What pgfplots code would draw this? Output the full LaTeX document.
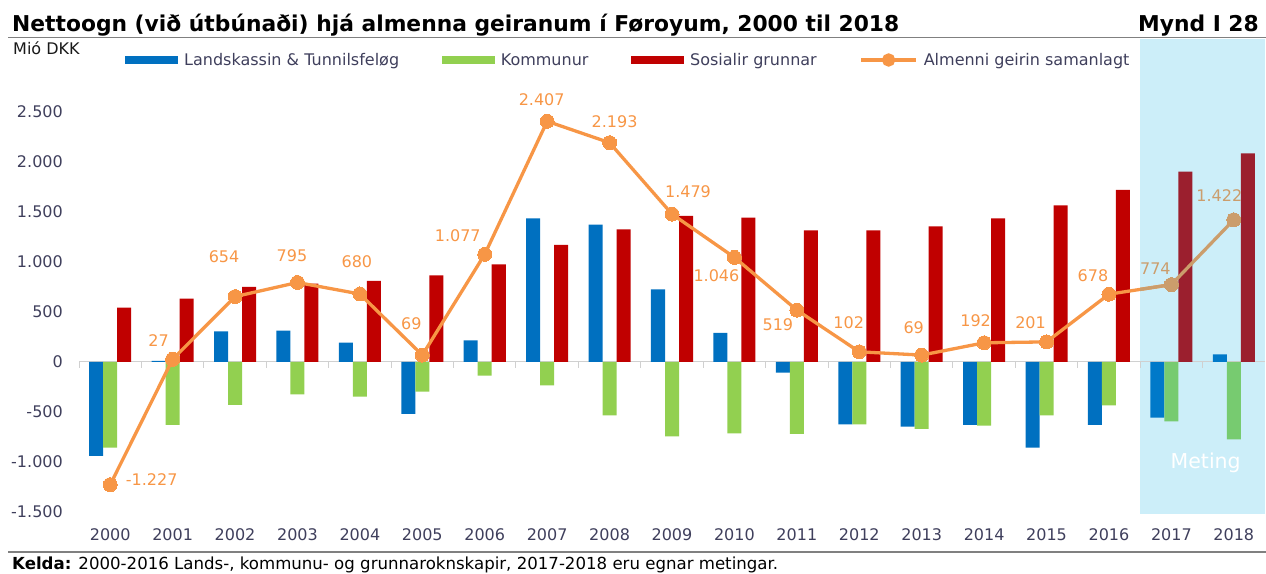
\documentclass[border=0pt]{standalone}
\usepackage{fontspec}
\setmainfont{DejaVu Sans}
\usepackage{pgfplots}
\usepackage{pgfplotstable}
\pgfplotsset{compat=1.18}

\definecolor{landblue}{HTML}{0070C0}
\definecolor{kommgreen}{HTML}{92D050}
\definecolor{sosred}{HTML}{C00000}
\definecolor{totorange}{HTML}{F79646}
% the same series inside the shaded forecast years
\definecolor{landblueF}{HTML}{0079C9}
\definecolor{kommgreenF}{HTML}{77CB70}
\definecolor{sosredF}{HTML}{9B1F2E}
\definecolor{totorangeF}{HTML}{CB9D6C}
\definecolor{metingblue}{HTML}{CCEEF9}
\definecolor{txt}{HTML}{3F3F5C}
\definecolor{axgray}{HTML}{D0D0D0}

\newcommand{\px}{\fontsize{16}{19}\selectfont}

% x = 0 is 2000
\pgfplotstableread{
x land komm sos
0 -940 -857 543
1 10 -630 633
2 307 -430 750
3 313 -323 783
4 193 -347 810
5 -520 -297 867
6 217 -137 977
7 1437 -233 1170
8 1373 -533 1327
9 727 -743 1460
10 290 -713 1443
11 -107 -720 1317
12 -623 -623 1317
13 -647 -670 1357
14 -630 -637 1437
15 -857 -533 1567
16 -630 -433 1720
17 -557 -593 1903
18 77 -773 2087
}\bars

% dx dy: label offsets in pt
\pgfplotstableread{
x tot dx dy
0 -1227 41.5 5.5
1 27 -14 19
2 654 -11 40
3 795 -5.5 27
4 680 -3 32
5 69 -11 31
6 1077 -27 19
7 2407 -5.5 22
8 2193 5 21
9 1479 16 22
10 1046 -18 -18
11 519 -19 -15
12 102 -10.5 29.5
13 69 -8 27
14 192 -8.5 22
15 201 -16 19
16 678 -16 18.5
17 774 -16 16
18 1422 -14.5 24
}\tot

\begin{document}
\begin{tikzpicture}[x=1pt,y=1pt]
\begin{axis}[
    at={(79pt,59pt)}, anchor=south west,
    scale only axis, width=1186pt, height=475pt,
    xmin=-0.5, xmax=18.5, ymin=-1520, ymax=3230,
    clip=false,
    axis line style={draw=none},
    major tick length=0pt,
    xtick={0,...,18},
    xticklabels={2000,2001,2002,2003,2004,2005,2006,2007,2008,2009,2010,2011,2012,2013,2014,2015,2016,2017,2018},
    ytick={-1500,-1000,...,2500},
    tick label style={font=\px, text=txt},
    yticklabel style={anchor=east, inner sep=0pt, xshift=-16pt},
    xticklabel style={anchor=north, inner sep=0pt, yshift=-14pt},
    /pgf/number format/1000 sep={.},
    /pgf/number format/assume math mode=true,
    bar width=0.2244,
    legend columns=4,
    legend cell align=left,
    legend style={at={(axis description cs:0,1)}, anchor=west, xshift=46pt, yshift=-21pt,
        draw=none, fill=none, inner sep=0pt, font=\px, text=txt,
        /tikz/every odd column/.append style={column sep=4pt},
        /tikz/every even column/.append style={column sep=40.7pt}},
    legend entries={Landskassin \& Tunnilsfeløg, Kommunur, Sosialir grunnar, Almenni geirin samanlagt},
]
% forecast years
\fill[metingblue] (axis cs:16.5,-1520) rectangle (axis cs:18.5,3230);
\draw[axgray, line width=1pt] (axis cs:-0.5,0) -- (axis cs:18.5,0);
\pgfplotsinvokeforeach{0,...,18}{\draw[axgray, line width=1pt] (axis cs:#1-0.5,0) -- ++(0pt,-6pt);}

\addplot[ybar, bar shift=-0.2244, fill=landblue, draw=none, restrict x to domain=0:16,
    legend image code/.code={\fill[landblue] (0pt,-4pt) rectangle (53pt,4pt);}]
    table[x=x, y=land] {\bars};
\addplot[ybar, bar shift=0, fill=kommgreen, draw=none, restrict x to domain=0:16,
    legend image code/.code={\fill[kommgreen] (0pt,-4pt) rectangle (53pt,4pt);}]
    table[x=x, y=komm] {\bars};
\addplot[ybar, bar shift=0.2244, fill=sosred, draw=none, restrict x to domain=0:16,
    legend image code/.code={\fill[sosred] (0pt,-4pt) rectangle (53pt,4pt);}]
    table[x=x, y=sos] {\bars};
\addplot[totorange, line width=3.3pt, mark=none, restrict x to domain=0:17,
    legend image code/.code={\draw[totorange, line width=3.3pt] (0pt,0pt) -- (55pt,0pt);
        \fill[totorange] (27.5pt,0pt) circle (5pt);}]
    table[x=x, y=tot] {\tot};

\addplot[ybar, bar shift=-0.2244, fill=landblueF, draw=none, restrict x to domain=17:18, forget plot]
    table[x=x, y=land] {\bars};
\addplot[ybar, bar shift=0, fill=kommgreenF, draw=none, restrict x to domain=17:18, forget plot]
    table[x=x, y=komm] {\bars};
\addplot[ybar, bar shift=0.2244, fill=sosredF, draw=none, restrict x to domain=17:18, forget plot]
    table[x=x, y=sos] {\bars};

\begin{scope}
\clip (axis cs:16.5,-1520) rectangle (axis cs:18.5,3230);
\addplot[totorangeF, line width=3.3pt, mark=none, restrict x to domain=16:18, forget plot]
    table[x=x, y=tot] {\tot};
\end{scope}

\addplot[totorange, only marks, mark=*, mark size=7pt, mark options={draw=totorange, fill=totorange, line width=0pt},
    restrict x to domain=0:16, forget plot,
    point meta=\thisrow{tot},
    visualization depends on={\thisrow{dx} \as \ldx},
    visualization depends on={\thisrow{dy} \as \ldy},
    nodes near coords={\pgfmathprintnumber[1000 sep={.}, assume math mode=true]{\pgfplotspointmeta}},
    every node near coord/.append style={font=\px, text=totorange, anchor=center, xshift=\ldx pt, yshift=\ldy pt}]
    table[x=x, y=tot] {\tot};
\addplot[totorangeF, only marks, mark=*, mark size=7pt, mark options={draw=totorangeF, fill=totorangeF, line width=0pt},
    restrict x to domain=17:18, forget plot,
    point meta=\thisrow{tot},
    visualization depends on={\thisrow{dx} \as \ldx},
    visualization depends on={\thisrow{dy} \as \ldy},
    nodes near coords={\pgfmathprintnumber[1000 sep={.}, assume math mode=true]{\pgfplotspointmeta}},
    every node near coord/.append style={font=\px, text=totorangeF, anchor=center, xshift=\ldx pt, yshift=\ldy pt}]
    table[x=x, y=tot] {\tot};

\node[text=white, font=\fontsize{20.5}{24}\selectfont] at (axis cs:17.55,-1010) {Meting};
\end{axis}

% title, unit, source
\node[anchor=base west, inner sep=0pt, font=\fontsize{21.8}{25}\selectfont\bfseries] at (12,541.3)
    {Nettoogn (við útbúnaði) hjá almenna geiranum í Føroyum, 2000 til 2018};
\node[anchor=base east, inner sep=0pt, font=\fontsize{21.8}{25}\selectfont\bfseries] at (1259,541.3) {Mynd I 28};
\draw[gray, line width=1.5pt] (8,535.3) -- (1266,535.3);
\node[anchor=base west, inner sep=0pt, font=\px, text=black!90] at (13,518) {Mió DKK};
\draw[gray, line width=1.5pt] (8,21) -- (1266,21);
\node[anchor=base west, inner sep=0pt, font=\fontsize{16.6}{19}\selectfont] at (12,3.5)
    {\textbf{Kelda:} 2000-2016 Lands-, kommunu- og grunnaroknskapir, 2017-2018 eru egnar metingar.};

\pgfresetboundingbox
\path (0,0) rectangle (1266,573);
\end{tikzpicture}
\end{document}
